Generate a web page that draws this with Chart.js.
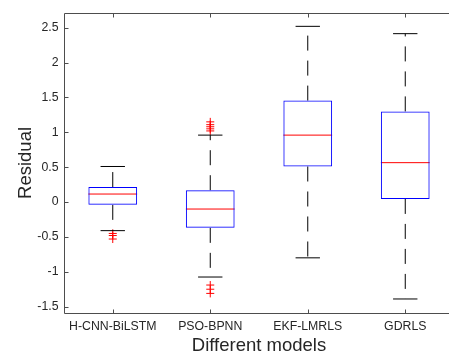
<!DOCTYPE html>
<html>
<head>
<meta charset="utf-8">
<script src="https://cdn.jsdelivr.net/npm/chart.js@4"></script>
<style>
  html, body { margin: 0; padding: 0; background: #fff; overflow: hidden; }
  #wrap { width: 449px; height: 361px; overflow: hidden; }
</style>
</head>
<body>
<div id="wrap"><canvas id="myChart" width="460" height="361"></canvas></div>
<script>
// Box plot values
const categories = ['H-CNN-BiLSTM', 'PSO-BPNN', 'EKF-LMRLS', 'GDRLS'];
const q1 = [-0.04, -0.37, 0.51, 0.045];
const q3 = [0.215, 0.17, 1.455, 1.30];
const medians = [0.115, -0.10, 0.96, 0.565];
const whiskerLow = [-0.41, -1.075, -0.80, -1.39];
const whiskerHigh = [0.51, 0.96, 2.52, 2.415];
const outliers = [
  [-0.45, -0.48, -0.53],
  [1.02, 1.05, 1.08, 1.11, 1.15, -1.19, -1.25, -1.31],
  [],
  []
];
const yTicks = [-1.5, -1, -0.5, 0, 0.5, 1, 1.5, 2, 2.5];

const boxHalf = 0.25;
const capHalf = 0.125;
const textColor = '#262626';
const font = 'Liberation Sans, Arial, sans-serif';

// helper for a simple segment dataset
function segment(points, color, dash) {
  return {
    type: 'line',
    data: points,
    borderColor: color,
    borderWidth: 1,
    borderDash: dash || [],
    pointRadius: 0,
    fill: false,
    tension: 0
  };
}

let datasets = [];

// Boxes as floating bars
datasets.push({
  type: 'bar',
  data: categories.map((c, i) => ({x: i + 1, y: [q1[i], q3[i]]})),
  backgroundColor: 'rgba(0,0,0,0)',
  borderColor: '#0000ff',
  borderWidth: 1,
  borderSkipped: false,
  barPercentage: 0.5,
  categoryPercentage: 1
});

categories.forEach((c, i) => {
  let x = i + 1;
  // whiskers, dashed from the box outwards
  datasets.push(segment([{x: x, y: q3[i]}, {x: x, y: whiskerHigh[i]}], '#000', [15, 10]));
  datasets.push(segment([{x: x, y: q1[i]}, {x: x, y: whiskerLow[i]}], '#000', [15, 10]));
  // caps
  datasets.push(segment([{x: x - capHalf, y: whiskerHigh[i]}, {x: x + capHalf, y: whiskerHigh[i]}], '#000'));
  datasets.push(segment([{x: x - capHalf, y: whiskerLow[i]}, {x: x + capHalf, y: whiskerLow[i]}], '#000'));
  // median
  datasets.push(segment([{x: x - boxHalf, y: medians[i]}, {x: x + boxHalf, y: medians[i]}], '#ff0000'));
});

// Outliers
datasets.push({
  type: 'scatter',
  data: outliers.flatMap((list, i) => list.map(v => ({x: i + 1, y: v}))),
  showLine: false,
  pointStyle: 'cross',
  pointRadius: 4,
  borderColor: '#ff0000',
  backgroundColor: '#ff0000',
  borderWidth: 1
});

// MATLAB style frame with inward ticks (right side falls outside the window)
const framePlugin = {
  id: 'frame',
  afterDatasetsDraw(chart) {
    const {ctx, chartArea: a, scales} = chart;
    const t = 4;
    const l = Math.round(a.left) + 0.5, r = a.right;
    const top = Math.round(a.top) + 0.5, bot = Math.round(a.bottom) + 0.5;
    ctx.save();
    ctx.strokeStyle = '#4d4d4d';
    ctx.lineWidth = 1;
    ctx.beginPath();
    ctx.moveTo(r, top); ctx.lineTo(l, top); ctx.lineTo(l, bot); ctx.lineTo(r, bot);
    yTicks.forEach(v => {
      let y = Math.round(scales.y.getPixelForValue(v)) + 0.5;
      ctx.moveTo(l, y); ctx.lineTo(l + t, y);
    });
    categories.forEach((c, i) => {
      let x = Math.round(scales.x.getPixelForValue(i + 1)) + 0.5;
      ctx.moveTo(x, bot); ctx.lineTo(x, bot - t);
      ctx.moveTo(x, top); ctx.lineTo(x, top + t);
    });
    ctx.stroke();
    ctx.restore();
  }
};

new Chart(document.getElementById('myChart'), {
  type: 'line',
  data: {datasets: datasets},
  plugins: [framePlugin],
  options: {
    responsive: false,
    animation: false,
    layout: {padding: {left: 0, top: 10, right: 6, bottom: 0}},
    plugins: {legend: {display: false}, tooltip: {enabled: false}},
    scales: {
      x: {
        type: 'linear',
        min: 0.5,
        max: 4.5,
        offset: false,
        grid: {display: false, drawTicks: false},
        border: {display: false},
        afterBuildTicks: axis => { axis.ticks = categories.map((c, i) => ({value: i + 1})); },
        afterFit: scale => { scale.height = 48; },
        ticks: {
          padding: 6.4,
          maxRotation: 0,
          autoSkip: false,
          color: textColor,
          font: {family: font, size: 12.3},
          callback: v => categories[v - 1]
        },
        title: {
          display: true,
          text: 'Different models',
          color: textColor,
          font: {family: font, size: 18.5},
          padding: {top: 1, bottom: 4}
        }
      },
      y: {
        min: -1.591,
        max: 2.713,
        grid: {display: false, drawTicks: false},
        border: {display: false},
        afterBuildTicks: axis => { axis.ticks = yTicks.map(v => ({value: v})); },
        afterFit: scale => { scale.width = 64; },
        ticks: {
          padding: 5.5,
          color: textColor,
          font: {family: font, size: 12.3},
          callback: v => String(v)
        },
        title: {
          display: true,
          text: 'Residual',
          color: textColor,
          font: {family: font, size: 18.5},
          padding: {top: 14.4, bottom: 0}
        }
      }
    }
  }
});
</script>
</body>
</html>
